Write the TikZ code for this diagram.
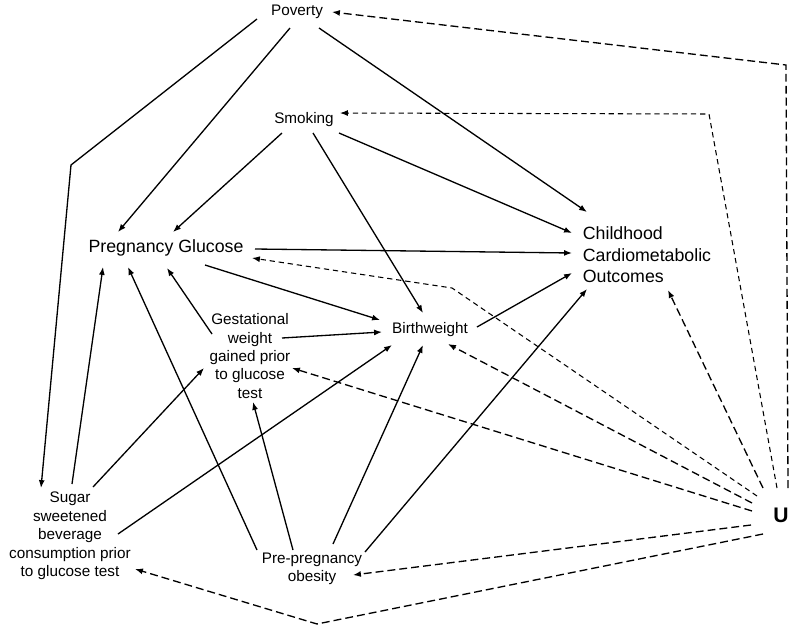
\documentclass[tikz,border=0pt]{standalone}
\usepackage{fontspec}
\setmainfont{Liberation Sans}
\usetikzlibrary{arrows.meta,calc}

\tikzset{
  var/.style={font=\fontsize{8.7}{10.5}\selectfont, align=center, inner sep=0pt},
  bigvar/.style={font=\fontsize{10.1}{12.3}\selectfont, inner sep=0pt},
  cause/.style={->, line width=0.75pt},
  conf/.style={->, line width=0.75pt, dash pattern=on 4.5pt off 2.3pt},
  confthin/.style={->, line width=0.6pt, dash pattern=on 3pt off 2.2pt},
}

\begin{document}
\begin{tikzpicture}[x=0.2mm,y=-0.2mm,>={Latex[length=4.5pt,width=3.4pt]}]
  \useasboundingbox (0,0) rectangle (800,631);
  % variables
  \node[var] (pov) at (297,12) {Poverty};
  \node[var] (smk) at (304,120) {Smoking};
  \node[bigvar] (pg) at (166,248) {Pregnancy Glucose};
  \node[bigvar,align=left] (cco) at (647,255) {Childhood\\Cardiometabolic\\Outcomes};
  \node[var] (bw) at (430,330) {Birthweight};
  \node[var] (gwg) at (250,356) {Gestational\\weight\\gained prior\\to glucose\\test};
  \node[var] (ssb) at (70,536) {Sugar\\sweetened\\beverage\\consumption prior\\to glucose test};
  \node[var] (ppo) at (312,569) {Pre-pregnancy\\obesity};
  \node[font=\fontsize{12}{14}\selectfont\bfseries, inner sep=0pt] (u) at (781,515) {U};

  % poverty
  \draw[cause] ($(pov)+(-7,16)$) -- ($(pg)+(-48,-16)$);
  \draw[cause] ($(pov)+(-40,7)$) -- (71,165) -- ($(ssb)+(-29,-48)$);
  \draw[cause] ($(pov)+(22,16)$) -- ($(cco)+(-60,-43)$);
  % smoking
  \draw[cause] ($(smk)+(-22,13)$) -- ($(pg)+(7,-16)$);
  \draw[cause] ($(smk)+(9,13)$) -- ($(bw)+(-7,-17)$);
  \draw[cause] ($(smk)+(35,13)$) -- ($(cco)+(-75,-22)$);
  % pregnancy glucose
  \draw[cause] ($(pg)+(89,1)$) -- ($(cco)+(-75,-2)$);
  \draw[cause] ($(pg)+(39,17)$) -- ($(bw)+(-50,-10)$);
  % gestational weight gain
  \draw[cause] ($(gwg)+(-38,-22)$) -- ($(pg)+(1,20)$);
  \draw[cause] ($(gwg)+(32,-18)$) -- ($(bw)+(-48,2)$);
  % birthweight
  \draw[cause] ($(bw)+(47,-3)$) -- ($(cco)+(-75,18)$);
  % sugar sweetened beverages
  \draw[cause] ($(ssb)+(2,-52)$) -- ($(pg)+(-63,19)$);
  \draw[cause] ($(ssb)+(23,-49)$) -- ($(gwg)+(-46,12)$);
  \draw[cause] ($(ssb)+(48,-2)$) -- ($(bw)+(-38,15)$);
  % pre-pregnancy obesity
  \draw[cause] ($(ppo)+(-55,-19)$) -- ($(pg)+(-38,19)$);
  \draw[cause] ($(ppo)+(-19,-19)$) -- ($(gwg)+(3,46)$);
  \draw[cause] ($(ppo)+(21,-25)$) -- ($(bw)+(-7,15)$);
  \draw[cause] ($(ppo)+(53,-17)$) -- ($(cco)+(-60,34)$);
  % unmeasured confounding
  \draw[conf] ($(u)+(7,-27)$) -- (786,65) -- ($(pov)+(35,0)$);
  \draw[confthin] ($(u)+(-4,-27)$) -- (709,114) -- ($(smk)+(36,-7)$);
  \draw[confthin] ($(u)+(-24,-19)$) -- (452,288) -- ($(pg)+(86,10)$);
  \draw[conf] ($(u)+(-18,-27)$) -- ($(cco)+(21,35)$);
  \draw[conf] ($(u)+(-29,-12)$) -- ($(bw)+(18,14)$);
  \draw[conf] ($(u)+(-29,-4)$) -- ($(gwg)+(42,12)$);
  \draw[conf] ($(u)+(-30,10)$) -- ($(ppo)+(41,6)$);
  \draw[conf] ($(u)+(-18,19)$) -- (317,624) -- ($(ssb)+(65,33)$);
\end{tikzpicture}
\end{document}
